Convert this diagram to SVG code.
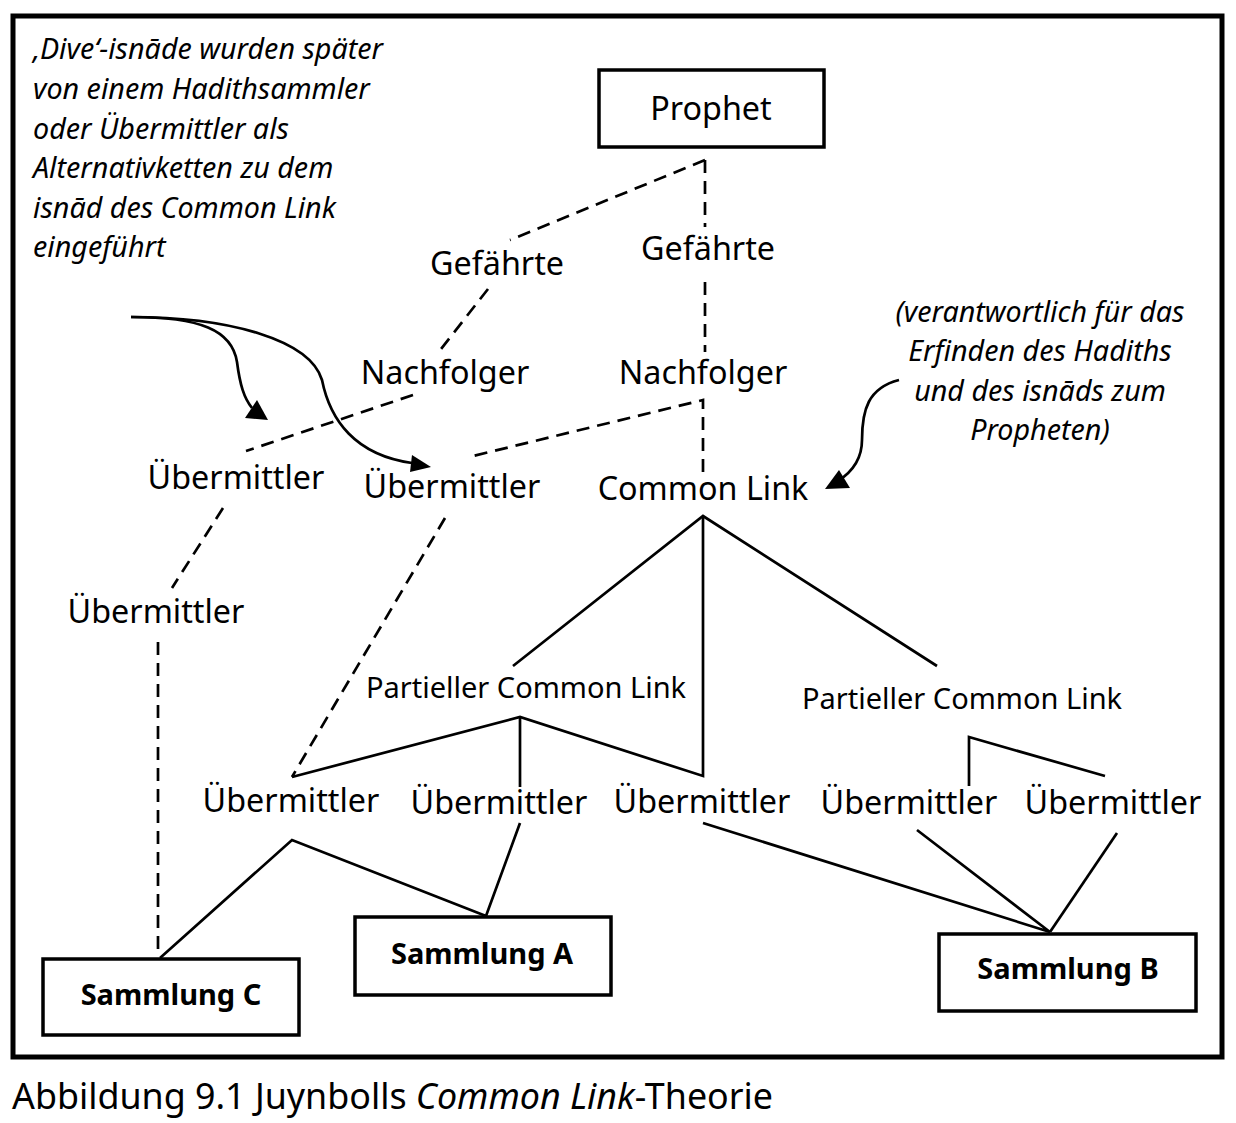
<svg xmlns="http://www.w3.org/2000/svg" width="1236" height="1123" viewBox="0 0 1236 1123">
<style>
text{font-family:"Noto Sans","Open Sans","DejaVu Sans",sans-serif;fill:#000}
.n{font-size:32.3px;text-anchor:middle}
.p{font-size:29px;text-anchor:middle}
.b{font-size:29px;font-weight:bold;text-anchor:middle}
.i{font-size:28.7px;font-style:italic}
.box{fill:#fff;stroke:#000;stroke-width:3.5}
.d{fill:none;stroke:#000;stroke-width:2.7;stroke-dasharray:13 8}
.s{fill:none;stroke:#000;stroke-width:2.7}
.c{fill:none;stroke:#000;stroke-width:2.7}
</style>
<rect x="0" y="0" width="1236" height="1123" fill="#fff"/>
<rect x="13" y="16" width="1209" height="1041" fill="none" stroke="#000" stroke-width="5"/>

<g id="connectors">
<path class="d" d="M705,160 L510,240"/>
<path class="d" d="M705,160 L705,227"/>
<path class="d" d="M705,282 L705,352"/>
<path class="d" d="M488,289 L441,349"/>
<path class="d" d="M413,395 L246,451"/>
<path class="d" d="M703,472 L703,400 L469,457"/>
<path class="d" d="M223,508 L172,588"/>
<path class="d" d="M158,642 L158,956"/>
<path class="d" d="M445,518 L292,777"/>
<path class="s" d="M513,666 L703,516 L937,666"/>
<path class="s" d="M292,777 L520,717 L703,776 L703,516"/>
<path class="s" d="M520,717 L520,787"/>
<path class="s" d="M160,958 L292,840 L486,916 L520,823"/>
<path class="s" d="M703,823 L1050,932 L917,830"/>
<path class="s" d="M1050,932 L1117,833"/>
<path class="s" d="M969,786 L969,737 L1105,776"/>
<path class="c" d="M131,317 C200,317 232,330 237,362 C240,385 244,398 252,408"/>
<path d="M245,418 L257,400 L268,420 Z"/>
<path class="c" d="M131,317 C230,317 310,340 322,380 C330,420 355,455 412,463"/>
<path d="M410,472 L412,455 L431,467 Z"/>
<path class="c" d="M899,380 C868,388 862,410 862,440 C862,460 852,472 838,481"/>
<path d="M825,489 L839,470 L850,488 Z"/>
</g>

<g id="prophet"><rect class="box" x="599" y="70" width="225" height="77"/><text class="n" x="711" y="120">Prophet</text></g>
<g id="gefaehrte1"><text class="n" x="497" y="275">Gefährte</text></g>
<g id="gefaehrte2"><text class="n" x="708" y="260">Gefährte</text></g>
<g id="nachfolger1"><text class="n" x="445" y="384">Nachfolger</text></g>
<g id="nachfolger2"><text class="n" x="703" y="384">Nachfolger</text></g>
<g id="uebermittler-a"><text class="n" x="236" y="489">Übermittler</text></g>
<g id="uebermittler-b"><text class="n" x="452" y="498">Übermittler</text></g>
<g id="common-link"><text class="n" x="703" y="500">Common Link</text></g>
<g id="uebermittler-c"><text class="n" x="156" y="623">Übermittler</text></g>
<g id="pcl1"><text class="p" x="526" y="698">Partieller Common Link</text></g>
<g id="pcl2"><text class="p" x="962" y="709">Partieller Common Link</text></g>
<g id="ue1"><text class="n" x="291" y="812">Übermittler</text></g>
<g id="ue2"><text class="n" x="499" y="814">Übermittler</text></g>
<g id="ue3"><text class="n" x="702" y="813">Übermittler</text></g>
<g id="ue4"><text class="n" x="909" y="814">Übermittler</text></g>
<g id="ue5"><text class="n" x="1113" y="814">Übermittler</text></g>
<g id="sammlung-c"><rect class="box" x="43" y="959" width="256" height="76"/><text class="b" x="171" y="1005">Sammlung C</text></g>
<g id="sammlung-a"><rect class="box" x="355" y="917" width="256" height="78"/><text class="b" x="482" y="964">Sammlung A</text></g>
<g id="sammlung-b"><rect class="box" x="939" y="934" width="257" height="77"/><text class="b" x="1068" y="979">Sammlung B</text></g>

<g id="note-left">
<text class="i" x="33" y="59">‚Dive‘-isnāde wurden später</text>
<text class="i" x="33" y="99">von einem Hadithsammler</text>
<text class="i" x="33" y="139">oder Übermittler als</text>
<text class="i" x="33" y="178">Alternativketten zu dem</text>
<text class="i" x="33" y="218">isnād des Common Link</text>
<text class="i" x="33" y="257">eingeführt</text>
</g>
<g id="note-right" style="text-anchor:middle">
<text class="i" x="1040" y="322">(verantwortlich für das</text>
<text class="i" x="1040" y="361">Erfinden des Hadiths</text>
<text class="i" x="1040" y="401">und des isnāds zum</text>
<text class="i" x="1040" y="440">Propheten)</text>
</g>
<text x="12" y="1109" style="font-size:36px" textLength="761" lengthAdjust="spacingAndGlyphs">Abbildung 9.1 Juynbolls <tspan font-style="italic">Common Link</tspan>-Theorie</text>
</svg>
